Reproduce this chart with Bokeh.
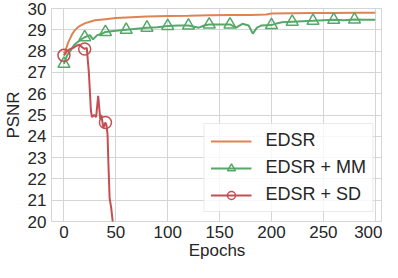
from bokeh.plotting import figure
from bokeh.models import Legend, LegendItem, FixedTicker, Range1d
from bokeh.embed import file_html
from bokeh.resources import INLINE

# ---------------- data ----------------
edsr_epochs = [0, 2, 4, 6, 8, 10, 13, 16, 20, 25, 30, 40, 50, 60, 80, 100, 120,
               140, 160, 180, 195, 200, 220, 240, 260, 280, 300]
edsr_psnr = [27.9, 28.1, 28.4, 28.6, 28.8, 28.95, 29.1, 29.2, 29.3, 29.38, 29.45,
             29.5, 29.55, 29.58, 29.63, 29.65, 29.66, 29.68, 29.7, 29.7, 29.72,
             29.77, 29.78, 29.79, 29.79, 29.8, 29.8]

mm_epochs = [0, 3, 6, 10, 15, 20, 25, 28, 32, 36, 40, 50, 60, 70, 80, 90, 100,
             110, 120, 130, 135, 140, 150, 160, 166, 172, 178, 182, 186, 190,
             200, 205, 210, 220, 230, 240, 250, 260, 270, 280, 290, 300]
mm_psnr = [27.4, 27.8, 28.0, 28.3, 28.5, 28.65, 28.75, 28.55, 28.75, 28.8, 28.9,
           28.95, 29.0, 29.05, 29.1, 29.12, 29.18, 29.2, 29.2, 29.1, 29.2, 29.25,
           29.25, 29.25, 29.1, 29.28, 29.2, 28.82, 29.1, 29.2, 29.22, 29.3, 29.35,
           29.38, 29.4, 29.42, 29.45, 29.47, 29.45, 29.48, 29.47, 29.47]

sd_epochs = [0, 3, 6, 9, 12, 15, 17, 20, 22, 24, 26, 27, 29, 31, 33, 35, 36, 38,
             40, 41, 42, 43, 44, 45.5, 47, 48]
sd_psnr = [27.8, 28.0, 28.1, 28.15, 28.25, 28.3, 28.2, 28.1, 28.15, 27.0, 25.2,
           24.9, 25.0, 24.9, 25.9, 24.8, 25.0, 24.4, 24.65, 24.5, 24.1, 22.5,
           21.1, 20.65, 20.0, 18.0]

marker_epochs = [0, 20, 40, 60, 80, 100, 120, 140, 160, 180, 200, 220, 240, 260, 280]

x_ticks = [0, 50, 100, 150, 200, 250, 300]
y_ticks = [20, 21, 22, 23, 24, 25, 26, 27, 28, 29, 30]

labels = ["EDSR", "EDSR + MM", "EDSR + SD"]

ORANGE = "#DD8452"
GREEN = "#55A868"
RED = "#C44E52"
GRID = "#d5d5d5"
TEXT = "#262626"
FONT = "Liberation Sans"
FS = "17px"

# ---------------- figure ----------------
p = figure(width=382, height=262, x_range=Range1d(-12, 307), y_range=Range1d(20, 30),
           output_backend="svg", toolbar_location=None)
p.min_border_top = 8
p.min_border_right = 0
p.min_border_left = 0
p.min_border_bottom = 0
p.outline_line_color = GRID
p.outline_line_width = 1
p.background_fill_color = "white"
p.border_fill_color = "white"

for ax in (p.xaxis[0], p.yaxis[0]):
    ax.axis_line_color = None
    ax.major_tick_line_color = None
    ax.minor_tick_line_color = None
    ax.major_tick_out = 0
    ax.major_tick_in = 0
    ax.minor_tick_out = 0
    ax.minor_tick_in = 0
    ax.major_label_text_font = FONT
    ax.major_label_text_font_size = FS
    ax.major_label_text_color = TEXT
    ax.axis_label_text_font = FONT
    ax.axis_label_text_font_size = FS
    ax.axis_label_text_font_style = "normal"
    ax.axis_label_text_color = TEXT
    ax.major_label_standoff = 5
    ax.axis_label_standoff = 2

p.xaxis.major_label_standoff = 4
p.xaxis.axis_label_standoff = 0

p.xaxis.ticker = FixedTicker(ticks=x_ticks)
p.yaxis.ticker = FixedTicker(ticks=y_ticks)
p.xaxis.axis_label = "Epochs"
p.yaxis.axis_label = "PSNR"
p.xgrid.grid_line_color = GRID
p.ygrid.grid_line_color = GRID
p.xgrid.grid_line_width = 1
p.ygrid.grid_line_width = 1


def markers_of(epochs, values, upto):
    lookup = dict(zip(epochs, values))
    xs = [e for e in marker_epochs if e in lookup and e <= upto]
    return xs, [lookup[e] for e in xs]


l_edsr = p.line(edsr_epochs, edsr_psnr, line_color=ORANGE, line_width=2)
l_mm = p.line(mm_epochs, mm_psnr, line_color=GREEN, line_width=2)
mx, my = markers_of(mm_epochs, mm_psnr, 300)
s_mm = p.scatter(mx, my, marker="triangle", size=12, fill_color=None,
                 line_color=GREEN, line_width=1.5)
l_sd = p.line(sd_epochs, sd_psnr, line_color=RED, line_width=2)
sx, sy = markers_of(sd_epochs, sd_psnr, 300)
s_sd = p.scatter(sx, sy, marker="circle", size=12, fill_color=None,
                 line_color=RED, line_width=1.5)

legend = Legend(items=[
    LegendItem(label=labels[0], renderers=[l_edsr]),
    LegendItem(label=labels[1], renderers=[l_mm, s_mm]),
    LegendItem(label=labels[2], renderers=[l_sd, s_sd]),
], location="bottom_right")
legend.glyph_width = 41
legend.glyph_height = 20
legend.label_height = 20
legend.label_standoff = 14
legend.spacing = 6
legend.padding = 6
legend.margin = 9
legend.label_text_font = FONT
legend.label_text_font_size = "18px"
legend.label_text_color = TEXT
legend.border_line_color = GRID
legend.border_line_width = 1
legend.background_fill_color = "white"
legend.background_fill_alpha = 0.8
p.add_layout(legend)

open("out.html", "w").write(file_html(p, INLINE))
